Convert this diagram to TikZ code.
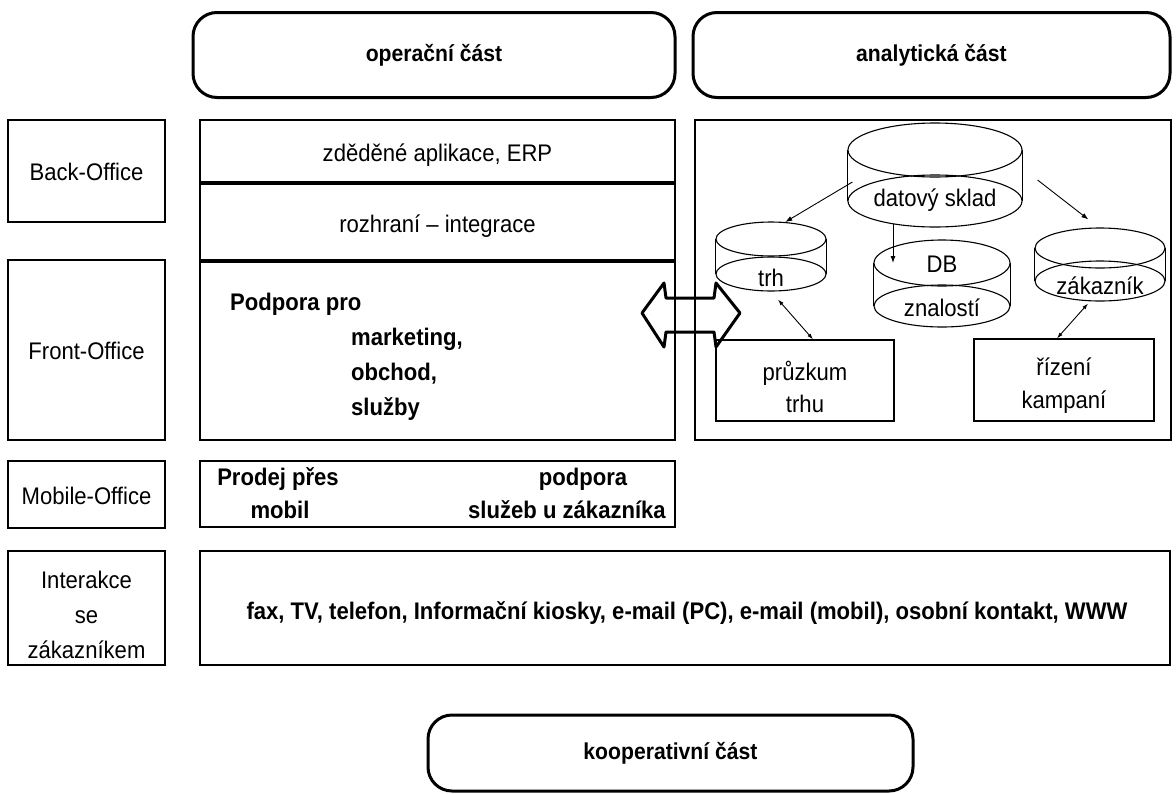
\documentclass[tikz,border=0pt]{standalone}
\usepackage{fontspec}
\setmainfont[FakeStretch=0.92]{Liberation Sans}
\usetikzlibrary{shapes.geometric,arrows.meta,calc}

\begin{document}
\begin{tikzpicture}[x=1pt,y=-1pt,
  txt/.style={font=\fontsize{24}{35}\selectfont, inner sep=0pt},
  btxt/.style={font=\fontsize{24}{35}\selectfont\bfseries, inner sep=0pt},
  box/.style={draw, line width=1.3pt, inner sep=0pt},
  part/.style={draw, line width=3pt, rounded corners=24pt, inner sep=0pt,
               font=\fontsize{23}{26}\selectfont\bfseries},
  disk/.style={draw, ellipse, line width=1.1pt, inner sep=0pt},
  link/.style={line width=0.9pt, -{Latex[length=7pt,width=5pt]}},
  blink/.style={line width=0.9pt, {Latex[length=6pt,width=4pt]}-{Latex[length=6pt,width=4pt]}}
]
\useasboundingbox (0,0) rectangle (1176,793);

% --- part headers ---
\node[part, minimum width=482pt, minimum height=85pt] (oper) at (434,55) {operační část};
\node[part, minimum width=477pt, minimum height=85pt] (anal) at (931.5,55) {analytická část};
\node[part, minimum width=485pt, minimum height=76pt] (koop) at (670.5,753) {kooperativní část};

% --- row labels ---
\node[box, minimum width=157pt, minimum height=102pt] (back)   at (86.5,171)   {};
\node[box, minimum width=157pt, minimum height=180pt] (frontl) at (86.5,350)   {};
\node[box, minimum width=157pt, minimum height=67pt]  (mobl)   at (86.5,494.5) {};
\node[box, minimum width=157pt, minimum height=114pt] (interl) at (86.5,608)   {};
\node[txt] (backT)  at ($(back)+(0,1)$)   {Back-Office};
\node[txt] (frontT) at ($(frontl)+(0,1)$) {Front-Office};
\node[txt] (mobT)   at ($(mobl)+(0,1)$)   {Mobile-Office};
\node[txt, align=center] (interT) at ($(interl)+(0,7)$) {Interakce\\se\\zákazníkem};

% --- operational column ---
\node[box, minimum width=475pt, minimum height=62pt] (erp)  at (437.5,151) {};
\node[box, minimum width=475pt, minimum height=78pt] (rozh) at (437.5,221) {};
\node[box, minimum width=475pt, minimum height=180pt] (front) at (437.5,350) {};
\draw[line width=4pt] (erp.south west) -- (erp.south east);
\draw[line width=4pt] (rozh.south west) -- (rozh.south east);
\node[txt] (erpT)  at ($(erp)+(0,4)$)  {zděděné aplikace, ERP};
\node[txt] (rozhT) at ($(rozh)+(0,5)$) {rozhraní – integrace};

\node[btxt, anchor=west] (podp) at (230,304) {Podpora pro};
\node[btxt, anchor=west] (mkt)  at (351,339) {marketing,};
\node[btxt, anchor=west] (obch) at (351,374) {obchod,};
\node[btxt, anchor=west] (sluz) at (351,409) {služby};

% --- mobile office ---
\node[box, minimum width=475pt, minimum height=66pt] (mob) at (437.5,494) {};
\node[btxt] (prodej)  at (278,479) {Prodej přes};
\node[btxt] (mobil)   at (280,510) {mobil};
\node[btxt] (podpora) at (583,479) {podpora};
\node[btxt] (sluzeb)  at (567,510) {služeb u zákazníka};

% --- customer interaction ---
\node[box, minimum width=970pt, minimum height=114pt] (inter) at (685,608) {};
\node[btxt] (kanaly) at (687,613) {fax, TV, telefon, Informační kiosky, e-mail (PC), e-mail (mobil), osobní kontakt, WWW};

% --- analytical column ---
\node[box, minimum width=476pt, minimum height=320pt] (analbox) at (933,280) {};

% data warehouse
\node[disk, minimum width=174pt, minimum height=54pt] (dsTop) at (935,150) {};
\node[disk, minimum width=174pt, minimum height=52pt] (dsBot) at (935,201) {};
\draw[line width=1.1pt] (dsTop.west) -- (dsBot.west) (dsTop.east) -- (dsBot.east);
\node[txt] (dsText) at (935,200) {datový sklad};

% market data
\node[disk, minimum width=110pt, minimum height=34pt] (trhTop) at (771,239) {};
\node[disk, minimum width=110pt, minimum height=34pt] (trhBot) at (771,274) {};
\draw[line width=1.1pt] (trhTop.west) -- (trhBot.west) (trhTop.east) -- (trhBot.east);
\node[txt] (trhText) at (771,278) {trh};

% knowledge base
\node[disk, minimum width=136pt, minimum height=46pt] (dbTop) at (942,263) {};
\node[disk, minimum width=136pt, minimum height=42pt] (dbBot) at (942,306) {};
\draw[line width=1.1pt] (dbTop.west) -- (dbBot.west) (dbTop.east) -- (dbBot.east);
\node[txt] (dbText) at (942,264) {DB};
\node[txt] (znText) at (942,308) {znalostí};

% customer data
\node[disk, minimum width=130pt, minimum height=40pt] (zakTop) at (1100,248) {};
\node[disk, minimum width=130pt, minimum height=40pt] (zakBot) at (1100,281) {};
\draw[line width=1.1pt] (zakTop.west) -- (zakBot.west) (zakTop.east) -- (zakBot.east);
\node[txt] (zakText) at (1100,286) {zákazník};

% applications
\node[box, minimum width=178pt, minimum height=81pt] (pruz) at (805,380.5) {};
\node[box, minimum width=180pt, minimum height=82pt] (riz)  at (1064,380) {};
\node[txt, align=center, font=\fontsize{24}{32}\selectfont] (pruzT) at ($(pruz)+(0,6)$) {průzkum\\trhu};
\node[txt, align=center, font=\fontsize{24}{33}\selectfont] (rizT)  at ($(riz)+(0,6)$)  {řízení\\kampaní};

% flows
\draw[link] ([xshift=5pt,yshift=-32pt]dsTop.west) -- (trhTop.50);
\draw[link] ([xshift=15pt,yshift=-30pt]dsTop.east) -- ([xshift=-8pt,yshift=8pt]zakTop.100);
\draw[link] (dsBot.209.5) -- (dsBot.209.5 |- dbTop.center);
\draw[blink] ([xshift=8pt]pruz.north) -- ([xshift=7pt,yshift=-8pt]trhBot.south);
\draw[blink] ([xshift=-7pt]riz.north) -- ([xshift=-12pt,yshift=-2pt]zakBot.south);

% exchange between operational and analytical parts
\draw[line width=3pt, line join=round]
  (642,313) -- (664,283) -- (666,298) -- (714,298) -- (716,283) -- (740,313)
  -- (716,347) -- (714,332) -- (666,332) -- (664,347) -- cycle;
\end{tikzpicture}
\end{document}
